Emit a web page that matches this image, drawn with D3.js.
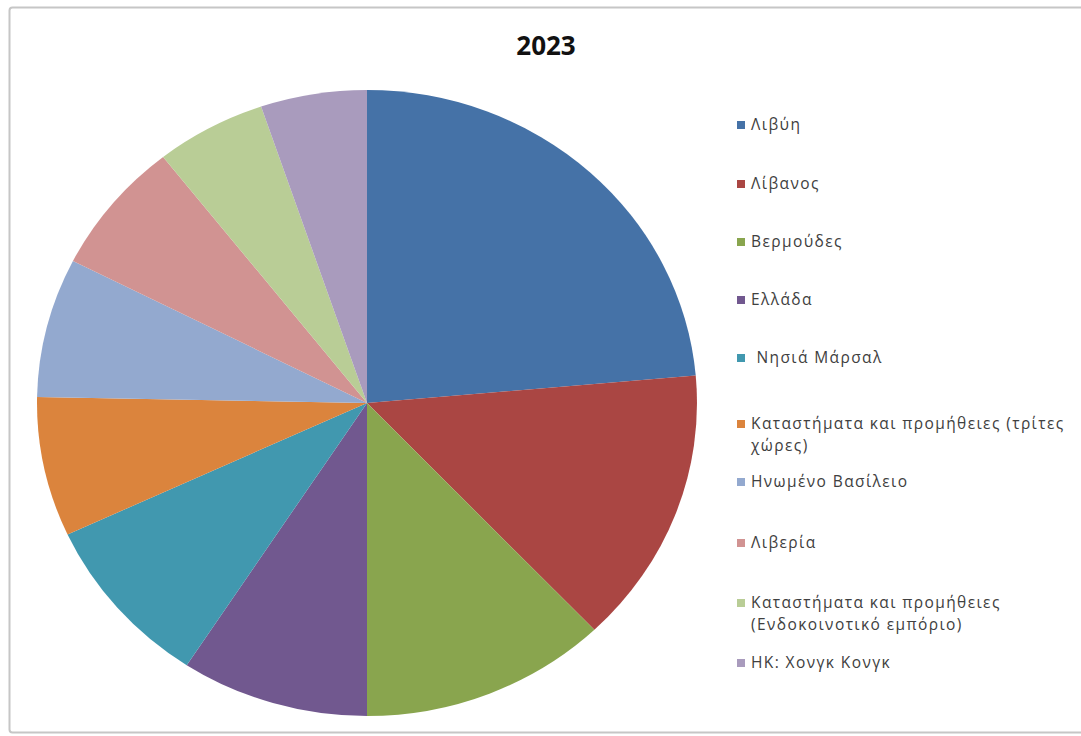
<!DOCTYPE html>
<html>
<head>
<meta charset="utf-8">
<script src="https://cdn.jsdelivr.net/npm/d3@7"></script>
<style>
  html, body { margin: 0; padding: 0; background: #fff; }
  svg { display: block; }
</style>
</head>
<body>
<svg id="chart" width="1081" height="736"></svg>
<script>
const title = "2023";
const categories = [
  "Λιβύη",
  "Λίβανος",
  "Βερμούδες",
  "Ελλάδα",
  " Νησιά Μάρσαλ",
  "Καταστήματα και προμήθειες (τρίτες χώρες)",
  "Ηνωμένο Βασίλειο",
  "Λιβερία",
  "Καταστήματα και προμήθειες (Ενδοκοινοτικό εμπόριο)",
  "ΗΚ: Χονγκ Κονγκ"
];
const values = [23.6, 14.3, 12.1, 9.2, 8.9, 7.2, 7.2, 6.9, 5.4, 5.2];
const colors = ["#4572A7", "#AA4643", "#89A54E", "#71588F", "#4198AF",
                "#DB843D", "#93A9CF", "#D19392", "#B9CD96", "#A99BBD"];
const legendY = [125, 184, 242, 300, 358, 424, 482, 543, 603, 663];

const svg = d3.select("#chart");

// frame
svg.append("rect")
  .attr("x", 9.5).attr("y", 7.5)
  .attr("width", 1080).attr("height", 725)
  .attr("rx", 3)
  .attr("fill", "#fff")
  .attr("stroke", "#c6c6c6")
  .attr("stroke-width", 2);

// title
svg.append("text")
  .attr("x", 546).attr("y", 55)
  .attr("text-anchor", "middle")
  .attr("font-family", "'Open Sans', 'Liberation Sans', sans-serif")
  .attr("font-weight", "bold")
  .attr("font-size", 26)
  .attr("fill", "#111")
  .text(title);

// pie
const cx = 367, cy = 403, rx = 330, ry = 313;
const pie = d3.pie().sort(null).value(d => d).startAngle(0).endAngle(2 * Math.PI);
const arc = d3.arc().innerRadius(0).outerRadius(ry);
const color = d3.scaleOrdinal().domain(categories).range(colors);

const g = svg.append("g")
  .attr("transform", `translate(${cx},${cy}) scale(${rx / ry},1)`);

g.selectAll("path")
  .data(pie(values))
  .join("path")
  .attr("d", arc)
  .attr("fill", (d, i) => color(categories[i]));

// legend
const lg = svg.append("g");
const maxW = 336;
categories.forEach((cat, i) => {
  const y = legendY[i];
  lg.append("rect")
    .attr("x", 737).attr("y", y - 4)
    .attr("width", 8).attr("height", 8)
    .attr("fill", color(cat));
  const t = lg.append("text")
    .attr("x", 751).attr("y", y + 5)
    .attr("font-family", "'Open Sans', 'Liberation Sans', sans-serif")
    .attr("font-size", 15.5)
    .attr("letter-spacing", 1.4)
    .attr("fill", "#404040")
    .attr("xml:space", "preserve");
  const words = cat.split(" ");
  let line = [];
  let tspan = t.append("tspan").attr("x", 751).attr("dy", 0);
  words.forEach(w => {
    line.push(w);
    tspan.text(line.join(" "));
    if (tspan.node().getComputedTextLength() > maxW && line.length > 1) {
      line.pop();
      tspan.text(line.join(" "));
      line = [w];
      tspan = t.append("tspan").attr("x", 751).attr("dy", 22).text(w);
    }
  });
});
</script>
</body>
</html>
